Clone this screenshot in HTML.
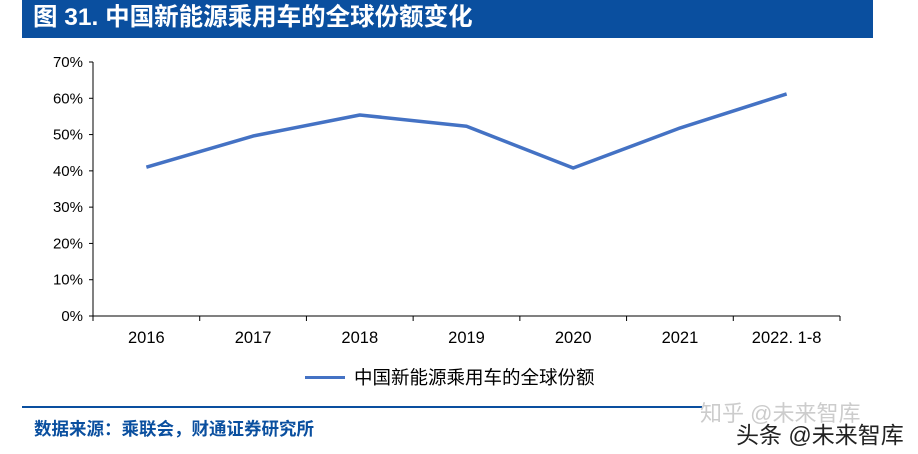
<!DOCTYPE html>
<html><head><meta charset="utf-8"><style>
body{margin:0;width:918px;height:454px;background:#fff;position:relative;overflow:hidden;font-family:"Liberation Sans","Noto Sans CJK SC",sans-serif}
.abs{position:absolute;white-space:nowrap}
</style></head><body>
<div class="abs" style="left:22px;top:0;width:851px;height:38px;background:#0a4f9f"></div>
<div class="abs" style="left:33px;top:3px;color:#fff;font-size:24.5px;font-weight:bold;line-height:30px">图 31. 中国新能源乘用车的全球份额变化</div>
<svg class="abs" style="left:0;top:0" width="918" height="454">
<g id="axes"></g><g id="marks"></g>
</svg>
<div class="abs" style="left:305px;top:365px;font-size:18.5px;color:#000;line-height:26px">
<span style="display:inline-block;width:40px;height:3px;background:#4472c4;vertical-align:middle;margin-right:9px;position:relative;top:-2px"></span>中国新能源乘用车的全球份额</div>
<div class="abs" style="left:22px;top:406px;width:680px;height:2px;background:#0a4f9f"></div>
<div class="abs" style="left:34px;top:416px;font-size:17.5px;font-weight:bold;color:#0a4f9f">数据来源：乘联会，财通证券研究所</div>
<div class="abs" style="left:700px;top:396px;font-size:22px;color:#ccc">知乎 @未来智库</div>
<div class="abs" style="left:736px;top:416px;font-size:23px;color:#222">头条 @未来智库</div>
<script>
const categories=["2016","2017","2018","2019","2020","2021","2022. 1-8"];
const shareValues=[41.0,49.6,55.4,52.3,40.8,51.8,61.2];
const yTicks=[0,10,20,30,40,50,60,70];
const NS="http://www.w3.org/2000/svg";
const x0=93,x1=840,y0=316,y1=62;
const bw=(x1-x0)/categories.length;
const xs=i=>x0+bw*(i+0.5);
const ys=v=>y0-(v/70)*(y0-y1);
const axes=document.getElementById('axes'),marks=document.getElementById('marks');
function mk(t,a,p){const e=document.createElementNS(NS,t);for(const k in a)e.setAttribute(k,a[k]);p.appendChild(e);return e;}
let l=mk('line',{x1:x0,y1:y1,x2:x0,y2:y0,stroke:'#000','stroke-width':1},axes);


l=mk('line',{x1:x0,y1:y0,x2:x1,y2:y0,stroke:'#000','stroke-width':1},axes);


yTicks.forEach(v=>{
 mk('line',{x1:x0-4,y1:ys(v),x2:x0,y2:ys(v),stroke:'#000'},axes);
 const t=mk('text',{x:x0-10,y:ys(v)+5,'text-anchor':'end','font-size':15,fill:'#000'},axes);
 t.textContent=v+'%';
 
 
});
for(let i=0;i<=categories.length;i++)mk('line',{x1:x0+bw*i,y1:y0,x2:x0+bw*i,y2:y0+5,stroke:'#000'},axes);
categories.forEach((c,i)=>{
 const t=mk('text',{x:xs(i),y:y0+27,'text-anchor':'middle','font-size':16.5,fill:'#000'},axes);
 t.textContent=c;
 
 
});
const p=mk('polyline',{points:shareValues.map((v,i)=>xs(i)+','+ys(v)).join(' '),fill:'none',stroke:'#4472c4','stroke-width':3.5,'stroke-linejoin':'round'},marks);


</script>
</body></html>
